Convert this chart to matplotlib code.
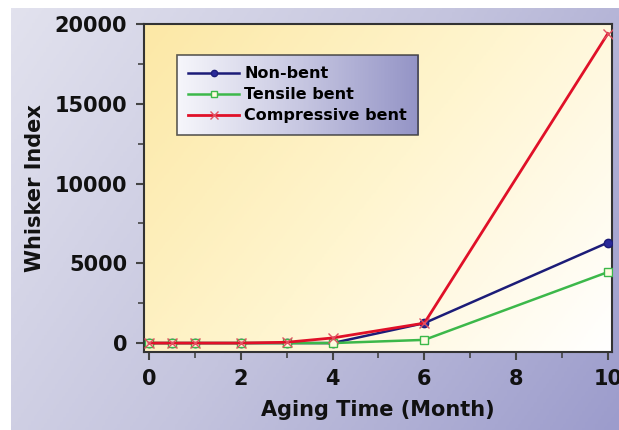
import numpy as np
import matplotlib.pyplot as plt
from matplotlib.colors import LinearSegmentedColormap
from matplotlib.ticker import MultipleLocator

# data
months = [0, 0.5, 1, 2, 3, 4, 6, 10]
non_bent = [0, 0, 0, 0, 0, 0, 1250, 6300]
tensile_bent = [0, 0, 0, 0, 0, 0, 200, 4450]
compressive_bent = [0, 0, 0, 0, 50, 320, 1250, 19400]

plt.rcParams['font.family'] = ['DejaVu Sans']
plt.rcParams['font.weight'] = 'bold'

fig = plt.figure(figsize=(6.19, 4.30), dpi=100)
fig.patch.set_facecolor('white')

# lavender page background (white strip at top and left like the scan)
bg = fig.add_axes([11/619, 0, 1 - 11/619, 422/430], zorder=0)
bg.axis('off')
xx, yy = np.meshgrid(np.linspace(0, 1, 200), np.linspace(0, 1, 200))
t = 0.75*xx + 0.35*yy
bg_cmap = LinearSegmentedColormap.from_list('bg', ['#e2e2ee', '#c4c4de', '#9c9ccc'])
bg.imshow(t, cmap=bg_cmap, aspect='auto', extent=[0, 1, 0, 1], origin='upper')
bg.set_xlim(0, 1)
bg.set_ylim(0, 1)

ax = fig.add_axes([144/619, 78/430, 468/619, 328/430], zorder=1)

# yellow-to-white plot background
t2 = 0.8*xx + 0.45*(1 - yy)
pa_cmap = LinearSegmentedColormap.from_list('pa', ['#fce8a6', '#fff5cf', '#ffffff'])
ax.imshow(t2, cmap=pa_cmap, aspect='auto', extent=[0, 1, 0, 1], origin='lower',
          transform=ax.transAxes, zorder=0)

ax.plot(months, non_bent, color='#1c1c78', lw=1.8, marker='o', ms=6,
        mfc='#2a2a9a', mec='#1c1c78', label='Non-bent', zorder=3)
ax.plot(months, tensile_bent, color='#3cb84a', lw=1.8, marker='s', ms=6,
        mfc='#fffbe0', mec='#3cb84a', label='Tensile bent', zorder=3)
ax.plot(months, compressive_bent, color='#e01028', lw=2.0, marker='x', ms=7,
        mew=1.0, mec='#e05060', label='Compressive bent', zorder=4)

ax.set_xlim(-0.11, 10.09)
ax.set_ylim(-560, 20000)
ax.xaxis.set_major_locator(MultipleLocator(2))
ax.xaxis.set_minor_locator(MultipleLocator(1))
ax.yaxis.set_major_locator(MultipleLocator(5000))
ax.yaxis.set_minor_locator(MultipleLocator(2500))
ax.tick_params(which='major', direction='out', length=6, width=1.5, color='#444444',
               labelsize=15, pad=6)
ax.tick_params(which='minor', direction='out', length=4, width=1.2, color='#444444')
for lab in ax.get_xticklabels() + ax.get_yticklabels():
    lab.set_fontweight('bold')
    lab.set_color('#111111')
for s in ax.spines.values():
    s.set_color('#333333')
    s.set_linewidth(1.5)

ax.set_xlabel('Aging Time (Month)', fontsize=15, fontweight='bold', color='#111111', labelpad=8)
ax.set_ylabel('Whisker Index', fontsize=15, fontweight='bold', color='#111111', labelpad=7)

leg = ax.legend(loc='upper left', bbox_to_anchor=(0.0705, 0.905),
                prop={'weight': 'bold', 'size': 11.5}, frameon=True, fancybox=False,
                handlelength=3.2, borderpad=0.7, labelspacing=0.38, handletextpad=0.3,
                borderaxespad=0, markerscale=0.75)
leg.get_frame().set_facecolor('none')
leg.get_frame().set_edgecolor('#333333')
leg.get_frame().set_linewidth(1.2)
leg.set_zorder(6)

# gradient fill behind the legend box
fig.canvas.draw()
bb = leg.get_window_extent().transformed(ax.transAxes.inverted())
lg_cmap = LinearSegmentedColormap.from_list('lg', ['#f6f6fb', '#c8c8e2', '#9494c6'])
ax.imshow(np.linspace(0, 1, 200).reshape(1, -1), cmap=lg_cmap, aspect='auto',
          extent=[bb.x0, bb.x1, bb.y0, bb.y1], transform=ax.transAxes, zorder=5)
ax.set_xlim(-0.11, 10.09)
ax.set_ylim(-560, 20000)

fig.savefig('out.png', dpi=100)
